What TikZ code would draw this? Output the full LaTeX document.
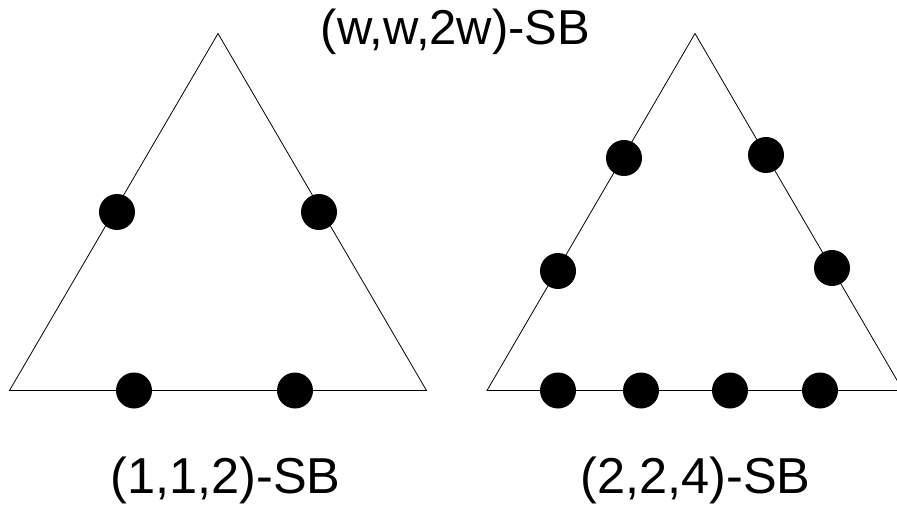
\documentclass[tikz,border=0pt]{standalone}
\usepackage{fontspec}
\setmainfont{Liberation Sans}
\begin{document}
\begin{tikzpicture}[x=1pt,y=-1pt,
  edge/.style={draw=black,line width=0.8pt},
  site/.style={circle,fill=black,inner sep=0pt,minimum size=36pt},
  toplabel/.style={font=\fontsize{49}{54}\selectfont,anchor=base,inner sep=0pt},
  sublabel/.style={font=\fontsize{50.5}{56}\selectfont,anchor=base,inner sep=0pt}]
\useasboundingbox (0,0) rectangle (897,505);
\clip (0,0) rectangle (897,505);

% left triangle: (1,1,2)
\coordinate (la) at (218,33.5);
\coordinate (lb) at (9.5,390.5);
\coordinate (lc) at (426.5,390.5);
\draw[edge] (lb) -- (la) -- (lc) -- cycle;
\node[site] (l1) at (117,212) {};
\node[site] (l2) at (319,212) {};
\node[site] (l3) at (134,390.5) {};
\node[site] (l4) at (295,390.5) {};

% right triangle: (2,2,4)
\coordinate (ra) at (695,33.5);
\coordinate (rb) at (487,390.5);
\coordinate (rc) at (903,390.5);
\draw[edge] (rb) -- (ra) -- (rc) -- cycle;
\node[site] (r1) at (624,158) {};
\node[site] (r2) at (766,155) {};
\node[site] (r3) at (558,271) {};
\node[site] (r4) at (832,268) {};
\node[site] (r5) at (558,390.5) {};
\node[site] (r6) at (641,390.5) {};
\node[site] (r7) at (730,390.5) {};
\node[site] (r8) at (820,390.5) {};

% labels
\node[toplabel] (title) at (455.5,45) {(w,w,2w)-SB};
\node[sublabel] (lname) at (225.5,493) {(1,1,2)-SB};
\node[sublabel] (rname) at (695.5,493) {(2,2,4)-SB};
\end{tikzpicture}
\end{document}
